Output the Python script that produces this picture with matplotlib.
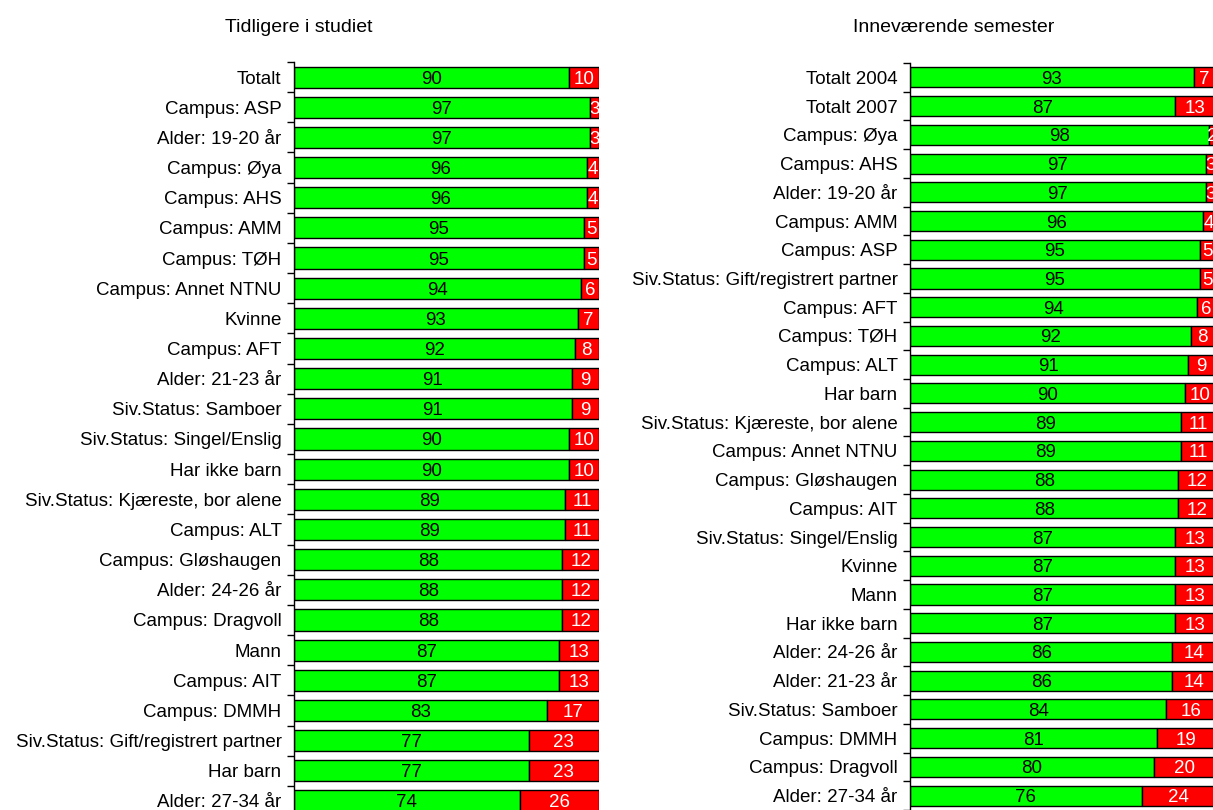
import matplotlib
matplotlib.use("Agg")
import matplotlib.pyplot as plt
import numpy as np

plt.rcParams['font.family'] = ['Liberation Sans', 'DejaVu Sans']

left_title = "Tidligere i studiet"
left_cats = ["Totalt", "Campus: ASP", "Alder: 19-20 år", "Campus: Øya", "Campus: AHS",
             "Campus: AMM", "Campus: TØH", "Campus: Annet NTNU", "Kvinne", "Campus: AFT",
             "Alder: 21-23 år", "Siv.Status: Samboer", "Siv.Status: Singel/Enslig",
             "Har ikke barn", "Siv.Status: Kjæreste, bor alene", "Campus: ALT",
             "Campus: Gløshaugen", "Alder: 24-26 år", "Campus: Dragvoll", "Mann",
             "Campus: AIT", "Campus: DMMH", "Siv.Status: Gift/registrert partner",
             "Har barn", "Alder: 27-34 år"]
left_yes = [90, 97, 97, 96, 96, 95, 95, 94, 93, 92, 91, 91, 90, 90, 89, 89, 88, 88, 88,
            87, 87, 83, 77, 77, 74]
left_no = [10, 3, 3, 4, 4, 5, 5, 6, 7, 8, 9, 9, 10, 10, 11, 11, 12, 12, 12,
           13, 13, 17, 23, 23, 26]

right_title = "Inneværende semester"
right_cats = ["Totalt 2004", "Totalt 2007", "Campus: Øya", "Campus: AHS", "Alder: 19-20 år",
              "Campus: AMM", "Campus: ASP", "Siv.Status: Gift/registrert partner",
              "Campus: AFT", "Campus: TØH", "Campus: ALT", "Har barn",
              "Siv.Status: Kjæreste, bor alene", "Campus: Annet NTNU", "Campus: Gløshaugen",
              "Campus: AIT", "Siv.Status: Singel/Enslig", "Kvinne", "Mann", "Har ikke barn",
              "Alder: 24-26 år", "Alder: 21-23 år", "Siv.Status: Samboer", "Campus: DMMH",
              "Campus: Dragvoll", "Alder: 27-34 år"]
right_yes = [93, 87, 98, 97, 97, 96, 95, 95, 94, 92, 91, 90, 89, 89, 88, 88, 87, 87, 87,
             87, 86, 86, 84, 81, 80, 76]
right_no = [7, 13, 2, 3, 3, 4, 5, 5, 6, 8, 9, 10, 11, 11, 12, 12, 13, 13, 13,
            13, 14, 14, 16, 19, 20, 24]

GREEN = "#00FF00"
RED = "#FF0000"
FS = 13.5

W, H = 1213, 810
fig = plt.figure(figsize=(W / 100, H / 100), dpi=100)


def px_axes(x0, x1, y_top, y_bot):
    return fig.add_axes([x0 / W, 1 - y_bot / H, (x1 - x0) / W, (y_bot - y_top) / H])


def draw(ax, cats, yes, no):
    n = len(cats)
    y = np.arange(n)
    ax.barh(y, yes, height=0.7, color=GREEN, edgecolor="black", linewidth=1.0)
    ax.barh(y, no, left=yes, height=0.7, color=RED, edgecolor="black", linewidth=1.0)
    for i in range(n):
        ax.text(yes[i] / 2, y[i], str(yes[i]), ha="center", va="center_baseline",
                fontsize=FS, color="black")
        ax.text(yes[i] + no[i] / 2, y[i], str(no[i]), ha="center", va="center_baseline",
                fontsize=FS, color="white")
    ax.set_xlim(0, 100)
    ax.set_ylim(n - 0.5, -0.5)
    ax.set_yticks(np.arange(n + 1) - 0.5)
    ax.set_yticklabels([])
    ax.set_yticks(y, minor=True)
    ax.set_yticklabels(cats, minor=True, fontsize=FS)
    ax.tick_params(axis="y", which="major", length=5, width=1.0, direction="out")
    ax.tick_params(axis="y", which="minor", length=0, pad=9)
    ax.set_xticks([])
    for s in ["top", "right", "bottom"]:
        ax.spines[s].set_visible(False)
    ax.spines["left"].set_linewidth(1.0)
    ax.patch.set_visible(False)


axL = px_axes(294, 599, 62, 816)
draw(axL, left_cats, left_yes, left_no)
axR = px_axes(910, 1215, 63, 810)
draw(axR, right_cats, right_yes, right_no)

fig.text(299 / W, 1 - 27 / H, left_title, ha="center", va="center", fontsize=14,
         family=["Liberation Sans Narrow", "Liberation Sans"])
fig.text(954 / W, 1 - 27 / H, right_title, ha="center", va="center", fontsize=14,
         family=["Liberation Sans Narrow", "Liberation Sans"])

fig.savefig("out.png", dpi=100)
